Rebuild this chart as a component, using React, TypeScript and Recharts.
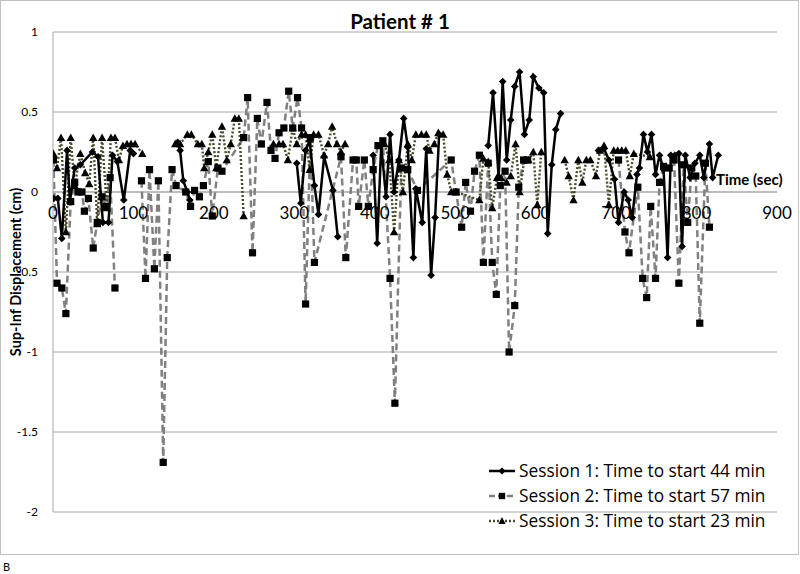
import React from "react";
import { LineChart, Line, XAxis, YAxis, CartesianGrid, ReferenceLine } from "recharts";

// Session 1 (sec, cm); null = gap
const s1Time = [1, 6, 11, 17.5, 21, 27, 34, 49, 56, 62, 69, 74, 80, 88, 96, 100, 125,
  155, 158, 162, 167, 170, 240,
  303, 308, 314, 319, 325, 330, 337, 348, 354, 375,
  398, 403, 408, 414, 419, 424, 430, 436, 441, 448, 451, 459, 464, 470, 475, 480, 510,
  541, 547, 554, 559, 564, 569, 574, 580, 586, 592, 597, 604, 610, 615, 620, 625, 631, 655,
  678, 685, 691, 698, 703, 710, 715, 720, 726, 729, 734, 739, 744, 749, 754, 759, 764, 768, 773, 778, 782, 786, 792, 798, 804, 809, 816, 820, 827];
const s1Disp = [-0.04, -0.04, -0.29, 0.26, -0.06, 0.15, 0.17, 0.25, 0.22, -0.19, -0.19, 0.23, 0.19, -0.05, 0.26, 0.24, null,
  0.31, 0.26, 0.07, 0.0, -0.05, null,
  0.18, -0.07, 0.26, 0.32, 0.04, -0.14, 0.22, 0.01, -0.28, null,
  0.23, -0.32, 0.29, -0.03, 0.36, 0.0, 0.2, 0.46, 0.28, -0.41, 0.02, -0.19, 0.27, -0.52, -0.16, 0.36, null,
  0.29, 0.62, 0.09, 0.69, 0.2, 0.45, 0.66, 0.75, 0.36, 0.45, 0.72, 0.65, 0.62, -0.26, 0.17, 0.39, 0.49, null,
  0.26, 0.27, 0.2, 0.08, -0.19, 0.0, -0.05, -0.16, 0.11, 0.15, 0.36, 0.25, 0.36, 0.11, 0.23, 0.14, -0.41, 0.23, 0.23, 0.24, -0.34, 0.23, 0.09, 0.18, 0.23, 0.09, 0.3, 0.09, 0.23];

// Session 2
const s2Time = [0.5, 5, 11, 16, 22, 27, 31, 36, 39, 44, 50, 55, 61, 66, 71, 77, 95,
  110, 115, 120, 126, 131, 137, 142, 148, 153, 165, 171, 176, 182, 187, 193, 198, 205, 210,
  237, 242, 248, 254, 259, 266, 271, 276, 281, 287, 293, 298, 304, 309, 314, 320, 325,
  358, 364, 373, 377, 380, 387, 392, 398, 404, 410, 419, 425, 433, 441, 453,
  495, 501, 508, 513, 519, 524, 530, 535, 541, 546, 551, 556, 562, 567, 574, 579, 585, 590, 650,
  703, 711, 716, 727, 733, 738, 743, 749, 754, 759, 766, 772, 778, 784, 789, 794, 799, 804, 811, 816];
const s2Disp = [0.2, -0.57, -0.6, -0.76, -0.06, 0.06, 0.0, 0.0, -0.12, -0.04, -0.35, -0.19, -0.03, -0.09, 0.09, -0.6, null,
  0.07, -0.54, 0.14, -0.48, 0.07, -1.69, -0.41, 0.14, 0.04, 0.0, -0.09, 0.01, -0.03, 0.04, 0.19, -0.15, 0.15, 0.13,
  0.34, 0.59, -0.38, 0.46, 0.3, 0.56, 0.26, 0.21, 0.37, 0.4, 0.63, 0.4, 0.59, 0.4, -0.7, 0.34, -0.44,
  0.22, -0.41, 0.2, 0.2, -0.09, 0.2, -0.09, 0.14, 0.29, 0.32, -0.54, -1.32, 0.15, 0.14, 0.01,
  0.2, 0.0, -0.22, 0.06, -0.12, 0.13, 0.23, -0.44, 0.18, -0.44, -0.64, 0.04, 0.13, -1.0, -0.71, 0.03, 0.2, 0.2, null,
  0.2, -0.25, -0.38, 0.03, -0.54, -0.66, -0.09, -0.54, 0.06, 0.16, 0.15, 0.2, -0.57, 0.17, -0.19, 0.15, 0.1, -0.82, 0.18, -0.22];

// Session 3
const s3Time = [0.5, 5, 10, 16, 22, 27, 34, 40, 45, 50, 55, 61, 67, 72, 77, 82, 87, 92, 97, 102, 111, 130,
  152, 158, 167, 172, 180, 185, 188, 193, 198, 203, 210, 216, 221, 226, 231, 237, 255,
  274, 281, 286, 292, 298, 303, 309, 314, 319, 324, 330, 337, 342, 347, 353, 358, 363, 390,
  412, 418, 424, 430, 435, 441, 446, 451, 458, 464, 468, 474, 479, 485, 490, 495, 501,
  530, 535, 541, 546, 552, 557, 564, 569, 575, 580, 586, 591, 597, 602, 607, 620,
  636, 641, 647, 653, 658, 663, 668, 675, 680, 685, 691, 697, 702, 707, 712, 717, 722, 742];
const s3Disp = [0.24, 0.15, 0.34, -0.25, 0.34, 0.04, 0.24, 0.12, 0.05, 0.34, -0.2, 0.34, -0.1, 0.34, 0.34, 0.2, 0.29, 0.3, 0.3, 0.3, 0.24, null,
  0.3, 0.3, 0.36, 0.36, 0.3, 0.3, 0.15, 0.25, 0.36, 0.15, 0.41, 0.2, 0.3, 0.46, 0.46, -0.15, null,
  0.3, 0.3, 0.3, 0.2, 0.4, 0.3, 0.36, 0.36, 0.14, 0.36, 0.36, 0.23, 0.3, 0.41, 0.3, 0.25, 0.3, null,
  0.3, 0.2, -0.25, 0.2, 0.0, 0.3, 0.2, 0.36, 0.36, 0.36, 0.26, 0.3, 0.37, 0.36, 0.11, 0.0, 0.0,
  -0.05, 0.21, 0.19, -0.1, 0.09, 0.09, 0.06, 0.1, 0.3, 0.0, 0.2, 0.2, 0.25, -0.08, 0.25, null,
  0.2, 0.1, -0.05, 0.2, 0.06, 0.2, 0.2, 0.1, 0.26, 0.29, -0.08, 0.26, 0.26, 0.26, 0.26, 0.1, 0.24, 0.22];

const xTicks = [0, 100, 200, 300, 400, 500, 600, 700, 800, 900];
const yTicks = [-2, -1.5, -1, -0.5, 0, 0.5, 1];
const seriesNames = [
  "Session 1: Time to start 44 min",
  "Session 2: Time to start 57 min",
  "Session 3: Time to start 23 min",
];

const toRows = (t: number[], v: (number | null)[]) => t.map((x, i) => ({ t: x, v: v[i] }));
const d1 = toRows(s1Time, s1Disp);
const d2 = toRows(s2Time, s2Disp);
const d3 = toRows(s3Time, s3Disp);

const FONT = "Lato, 'Open Sans', sans-serif";
const W = 800, H = 574;
const XH = 1;
const M = { top: 32, right: 23, bottom: 62 - XH, left: 0 };
const YW = 53;
const PLOT_H = H - M.top - M.bottom - XH;
const Y_MIN = -2, Y_MAX = 1;
const ZERO_FROM_BOTTOM = PLOT_H * (0 - Y_MIN) / (Y_MAX - Y_MIN);

const C1 = "#000000";
const C2 = "#808080";
const C3 = "#4a4a2a";

const Diamond = (p: any) => {
  const { cx, cy, index } = p;
  if (cy == null || p.value == null || isNaN(cy)) return <g key={"d" + index} />;
  const r = 3.8;
  return <path key={"d" + index} d={`M${cx},${cy - r}L${cx + r},${cy}L${cx},${cy + r}L${cx - r},${cy}Z`} fill="#000" />;
};
const Square = (p: any) => {
  const { cx, cy, index } = p;
  if (cy == null || p.value == null || isNaN(cy)) return <g key={"s" + index} />;
  const r = 3.6;
  return <rect key={"s" + index} x={cx - r} y={cy - r} width={2 * r} height={2 * r} fill="#000" />;
};
const Triangle = (p: any) => {
  const { cx, cy, index } = p;
  if (cy == null || p.value == null || isNaN(cy)) return <g key={"t" + index} />;
  const r = 4.2;
  return <path key={"t" + index} d={`M${cx},${cy - r}L${cx + r},${cy + r * 0.8}L${cx - r},${cy + r * 0.8}Z`} fill="#000" />;
};

const XTick = (p: any) => {
  const { x, y, payload } = p;
  return (
    <text x={x} y={y} dy={-ZERO_FROM_BOTTOM + 21} textAnchor="middle" fontFamily={FONT} fontSize={17} fill="#000">
      {payload.value}
    </text>
  );
};

const legendItems = [
  { name: seriesNames[0], color: C1, dash: undefined as string | undefined, shape: "diamond" },
  { name: seriesNames[1], color: C2, dash: "6 3", shape: "square" },
  { name: seriesNames[2], color: C3, dash: "2 2", shape: "triangle" },
];

const LegendBox = () => (
  <div style={{ position: "absolute", left: 486, top: 458, fontFamily: "'Open Sans', sans-serif", fontSize: 17.3, color: "#000" }}>
    {legendItems.map((it) => (
      <div key={it.name} style={{ display: "flex", alignItems: "center", height: 25 }}>
        <svg width={30} height={12} style={{ marginRight: 3 }}>
          <line x1={3} y1={6} x2={29} y2={6} stroke={it.color} strokeWidth={2.5} strokeDasharray={it.dash} />
          {it.shape === "diamond" && <path d="M16,2.4L19.6,6L16,9.6L12.4,6Z" fill="#000" />}
          {it.shape === "square" && <rect x={12.8} y={2.8} width={6.4} height={6.4} fill="#000" />}
          {it.shape === "triangle" && <path d="M16,2L19.6,9L12.4,9Z" fill="#000" />}
        </svg>
        <span style={{ whiteSpace: "nowrap" }}>{it.name}</span>
      </div>
    ))}
  </div>
);

export default function App() {
  return (
    <div style={{ position: "absolute", left: 0, top: 0, width: W, height: H, background: "#fff", fontFamily: FONT }}>
      <div style={{ position: "absolute", left: 0, top: 0, width: W - 1, height: 555, border: "1px solid #c0c0c0", boxSizing: "border-box" }} />
      <LineChart width={W} height={H} margin={M}>
        <CartesianGrid vertical={false} stroke="#a6a6a6" strokeWidth={1} />
        <XAxis
          dataKey="t"
          type="number"
          domain={[0, 900]}
          ticks={xTicks}
          height={XH}
          axisLine={false}
          tickLine={false}
          tickMargin={0}
          tick={<XTick />}
          interval={0}
          allowDataOverflow
        />
        <YAxis
          type="number"
          domain={[Y_MIN, Y_MAX]}
          ticks={yTicks}
          width={YW}
          axisLine={{ stroke: "#a6a6a6" }}
          tickLine={false}
          tickMargin={9}
          tick={{ fontFamily: FONT, fontSize: 12, fill: "#000" }}
          label={{
            value: "Sup-Inf Displacement (cm)",
            angle: -90,
            position: "insideLeft",
            offset: 16,
            style: { textAnchor: "middle", fontFamily: FONT, fontSize: 14.5, fontWeight: 700, fill: "#000" },
          }}
        />
        <ReferenceLine y={0} stroke="#a6a6a6" strokeWidth={1} />
        <Line data={d2} dataKey="v" name={seriesNames[1]} stroke={C2} strokeWidth={2.5} strokeDasharray="7 4" dot={Square} activeDot={false} isAnimationActive={false} connectNulls={false} />
        <Line data={d3} dataKey="v" name={seriesNames[2]} stroke={C3} strokeWidth={2.4} strokeDasharray="2 2" dot={Triangle} activeDot={false} isAnimationActive={false} connectNulls={false} />
        <Line data={d1} dataKey="v" name={seriesNames[0]} stroke={C1} strokeWidth={2.5} dot={Diamond} activeDot={false} isAnimationActive={false} connectNulls={false} />
      </LineChart>
      <LegendBox />
      <div style={{ position: "absolute", left: 0, width: W, top: 9, textAlign: "center", fontSize: 20.5, fontWeight: 700 }}>Patient # 1</div>
      <div style={{ position: "absolute", left: 716, top: 170, fontSize: 15, fontWeight: 700 }}>Time (sec)</div>
      <div style={{ position: "absolute", left: 3, top: 560, fontSize: 11 }}>B</div>
    </div>
  );
}
